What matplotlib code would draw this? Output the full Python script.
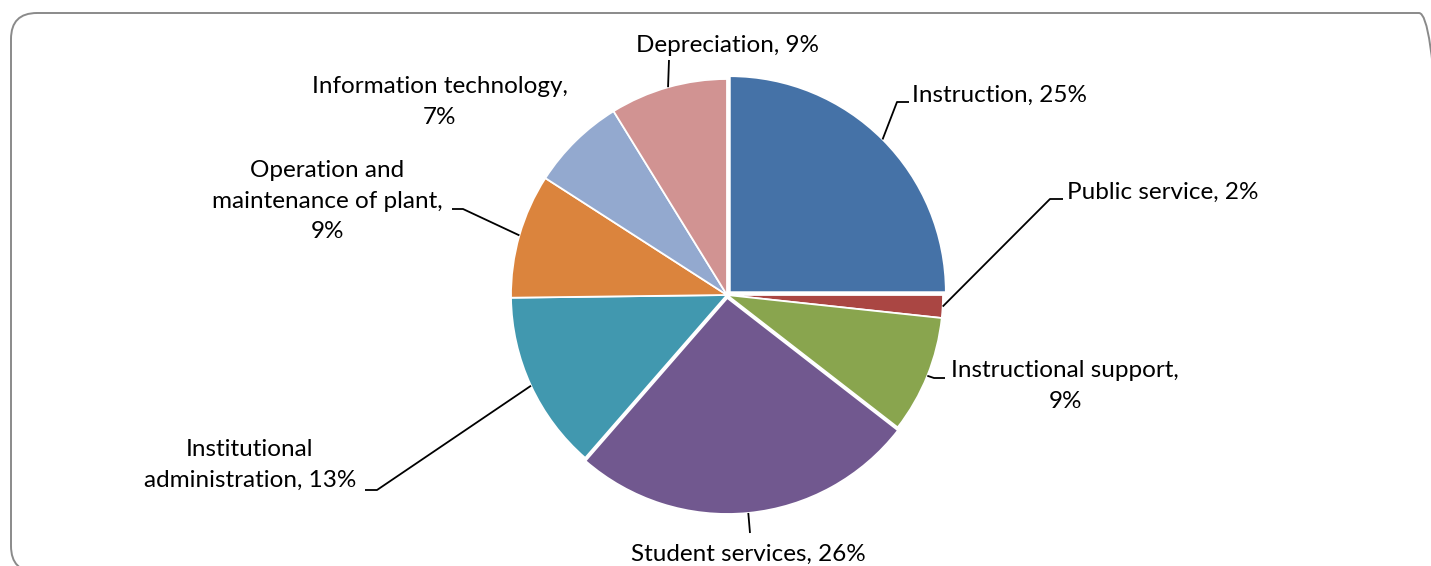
import numpy as np
import matplotlib
matplotlib.use("Agg")
import matplotlib.pyplot as plt
from matplotlib.patches import FancyBboxPatch

categories = ["Instruction", "Public service", "Instructional support",
              "Student services", "Institutional administration",
              "Operation and maintenance of plant", "Information technology",
              "Depreciation"]
shares = [25.0, 1.7, 8.8, 25.9, 13.4, 9.3, 7.1, 8.8]
# how each label is broken into lines (text as it appears on the chart)
label_text = ["Instruction, {}%", "Public service, {}%",
              "Instructional support,\n{}%", "Student services, {}%",
              "Institutional\nadministration, {}%",
              "Operation and\nmaintenance of plant,\n{}%",
              "Information technology,\n{}%", "Depreciation, {}%"]
colors = ["#4572A7", "#AA4643", "#89A54E", "#71588F",
          "#4198AF", "#DB843D", "#93A9CF", "#D19392"]

W, H = 1431, 566
cx, cy, R = 727, 295, 216
explode = [4, 0, 0, 3, 0, 0, 0, 0]

plt.rcParams['font.family'] = ['Lato', 'DejaVu Sans']

fig = plt.figure(figsize=(W / 100, H / 100), dpi=100)
fig.patch.set_facecolor("white")

ax = fig.add_axes([0, 0, 1, 1])
ax.axis("off")

def Y(y):
    return H - y

# rounded frame round the chart (runs off the bottom/right edge)
frame = FancyBboxPatch((11, Y(572)), 1434, 572 - 13,
                       boxstyle="round,pad=0,rounding_size=26",
                       facecolor="none", edgecolor="#8a8a8a",
                       linewidth=1.4, clip_on=False, zorder=0)
ax.add_patch(frame)

wedges, _ = ax.pie(shares, colors=colors, startangle=90, counterclock=False,
                   radius=R, center=(cx, Y(cy)), explode=explode,
                   wedgeprops=dict(edgecolor="white", linewidth=1.3))
ax.set_xlim(0, W)
ax.set_ylim(0, H)
ax.set_aspect("equal")

# label placement: text anchor (image px), alignment, leader elbow
layout = [
    dict(xy=(912, 95), ha="left", elbow=[(909, 102), (897, 102)]),
    dict(xy=(1067, 192), ha="left", elbow=[(1063, 199), (1050, 199)]),
    dict(xy=(1065, 386), ha="center", elbow=[(945, 378), (934, 378)]),
    dict(xy=(748, 554), ha="center", elbow=[(750, 533)]),
    dict(xy=(250, 465), ha="center", elbow=[(365, 490), (377, 490)]),
    dict(xy=(327, 201), ha="center", elbow=[(452, 209), (463, 209)]),
    dict(xy=(440, 102), ha="center", elbow=None),
    dict(xy=(728, 46), ha="center", elbow=[(669, 60)]),
]

for w, txt, val, lay in zip(wedges, label_text, shares, layout):
    ax.text(lay["xy"][0], Y(lay["xy"][1]), txt.format(int(round(val))),
            ha=lay["ha"], va="center", multialignment="center",
            fontsize=17.5, color="black", linespacing=1.55)
    if lay["elbow"] is None:
        continue
    tm = np.deg2rad((w.theta1 + w.theta2) / 2)
    px = w.center[0] + R * np.cos(tm)
    py = w.center[1] + R * np.sin(tm)
    xs = [p[0] for p in lay["elbow"]] + [px]
    ys = [Y(p[1]) for p in lay["elbow"]] + [py]
    ax.plot(xs, ys, color="black", linewidth=1.3, solid_capstyle="butt")

fig.savefig("out.png", dpi=100)
